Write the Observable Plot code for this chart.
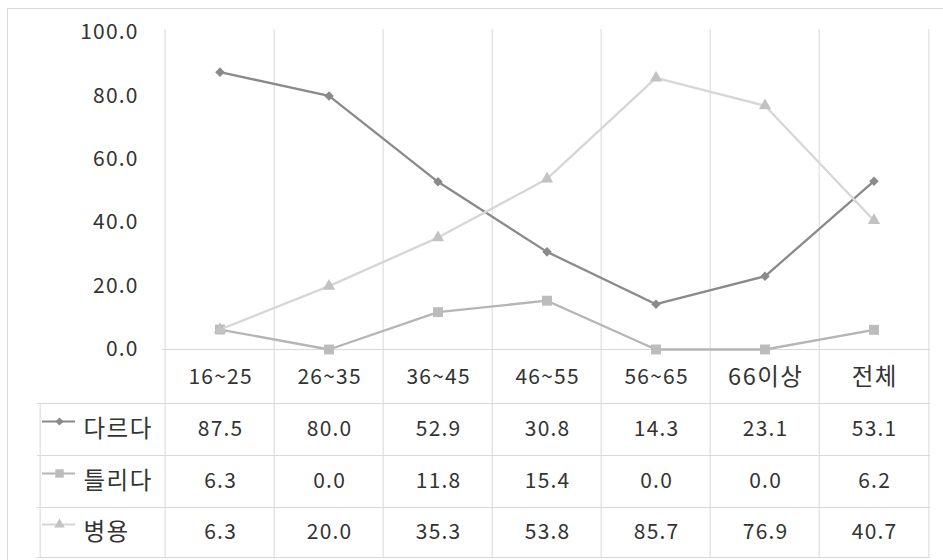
<!DOCTYPE html>
<html><head><meta charset="utf-8">
<script src="https://cdn.jsdelivr.net/npm/d3@7"></script>
<script src="https://cdn.jsdelivr.net/npm/@observablehq/plot@0.6"></script>
<style>
body{margin:0;background:#fff;}
#chart{width:943px;height:560px;overflow:hidden;}
</style></head><body><div id="chart"></div>
<script>
const categories = ["16~25","26~35","36~45","46~55","56~65","66이상","전체"];
const seriesNames = ["다르다","틀리다","병용"];
const differValues = [87.5,80.0,52.9,30.8,14.3,23.1,53.1];
const wrongValues = [6.3,0.0,11.8,15.4,0.0,0.0,6.2];
const bothValues = [6.3,20.0,35.3,53.8,85.7,76.9,40.7];
const yTicks = [0,20,40,60,80,100];

const seriesValues = [differValues, wrongValues, bothValues];
const lineColors = ["#8a8a8a","#b5b5b5","#d6d6d6"];
const markColors = ["#8a8a8a","#bcbcbc","#c2c2c2"];
const symbols = ["diamond2","square","triangle"];
const radii = [4.3,5.6,4.6];

const W = 943, H = 560;
const mL = 162, mR = 13, mT = 32, mB = 211;
const bw = (W - mL - mR) / categories.length;
const rowDy = [28, 80, 132, 183];
const tableLines = [54, 106, 158, 208];
const grid = "#d9d9d9";
const textColor = "#333333";

const rows = [];
seriesNames.forEach((s, i) => categories.forEach((c, j) => rows.push({series: s, idx: i, cat: c, value: seriesValues[i][j]})));

const marks = [];
marks.push(Plot.frame({stroke: grid, insetLeft: -(mL - 7), insetTop: -(mT - 8), insetRight: -40, insetBottom: -260}));
marks.push(Plot.ruleX(categories, {x: d => d, dx: -bw / 2, stroke: grid, insetTop: -3, insetBottom: -208}));
marks.push(Plot.ruleX([categories[categories.length - 1]], {x: d => d, dx: bw / 2, stroke: grid, insetTop: -3, insetBottom: -208}));
marks.push(Plot.ruleX([categories[0]], {x: d => d, dx: -bw / 2 - 125, stroke: grid, insetTop: (H - mB - mT) + 54, insetBottom: -208}));
marks.push(Plot.ruleY([0], {stroke: grid}));
tableLines.forEach(dy => marks.push(Plot.ruleY([0], {stroke: grid, dy, insetLeft: -125})));
marks.push(Plot.text(categories, {x: d => d, y: () => 0, dy: rowDy[0], fill: textColor}));

seriesNames.forEach((s, i) => {
  const data = rows.filter(r => r.idx === i);
  marks.push(Plot.line(data, {x: "cat", y: "value", stroke: lineColors[i], strokeWidth: 2.3}));
  marks.push(Plot.dot(data, {x: "cat", y: "value", symbol: () => symbols[i], r: radii[i], fill: markColors[i], stroke: "none"}));
  marks.push(Plot.text(data, {x: "cat", y: () => 0, dy: rowDy[i + 1], text: d => d.value.toFixed(1), fill: textColor}));
  marks.push(Plot.ruleY([0], {dy: rowDy[i + 1] - 8, stroke: lineColors[i], strokeWidth: 2, insetLeft: -120, insetRight: (W - mR) - 75}));
  marks.push(Plot.dot([0], {y: d => d, frameAnchor: "left", dx: -103, dy: rowDy[i + 1] - 8, symbol: () => symbols[i], r: radii[i] * 0.85, fill: markColors[i], stroke: "none"}));
  marks.push(Plot.text([s], {y: () => 0, frameAnchor: "left", dx: -79, dy: rowDy[i + 1], textAnchor: "start", fill: textColor}));
});

const chart = Plot.plot({
  width: W, height: H,
  marginLeft: mL, marginRight: mR, marginTop: mT, marginBottom: mB,
  style: {fontFamily: "'Noto Sans CJK KR', 'Noto Sans', sans-serif", fontSize: "21px", color: textColor, background: "#fff", overflow: "visible"},
  x: {type: "band", domain: categories, padding: 0, axis: null},
  y: {domain: [0, 100], ticks: yTicks, tickFormat: d => d.toFixed(1), tickSize: 0, tickPadding: 25, label: null},
  symbol: {type: "identity"},
  marks
});
// the reference typeface is wider: Hangul labels get a larger size, all text a little spacing
d3.select(chart).selectAll("text").each(function() {
  const t = this.textContent;
  const hangul = /[가-힣]/.test(t);
  const ls = hangul ? 1.5 : 1.2;
  if (hangul) this.style.fontSize = "23.5px";
  this.style.letterSpacing = ls + "px";
  const anchor = this.getAttribute("text-anchor") || (this.parentNode && this.parentNode.getAttribute("text-anchor")) || "middle";
  if (anchor === "middle") this.setAttribute("dx", ls / 2);
  else if (anchor === "end") this.setAttribute("dx", ls);
});
document.getElementById("chart").appendChild(chart);
</script>
</body></html>
